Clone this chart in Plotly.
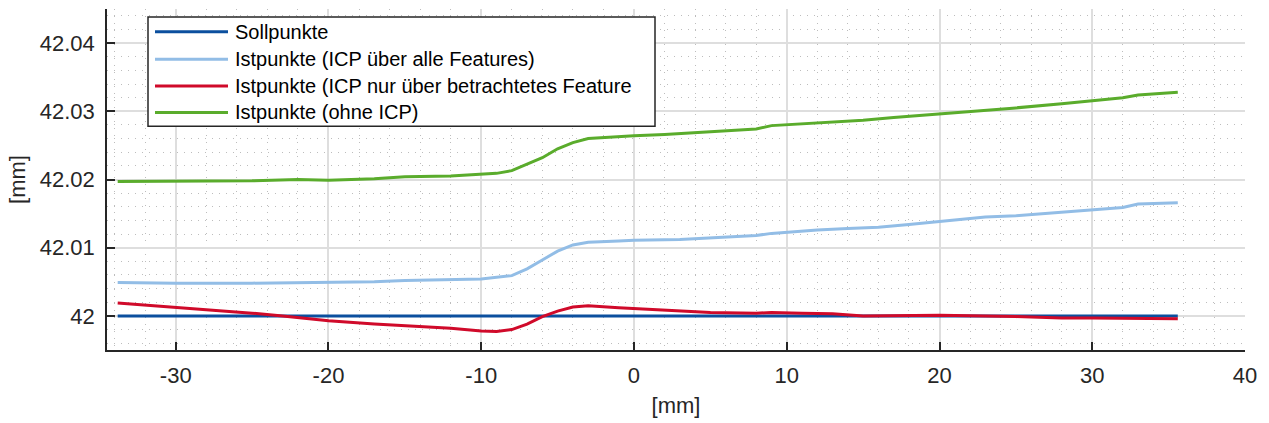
import plotly.graph_objects as go

# Sollpunkte
x_soll = [-33.8, 35.6]
y_soll = [42.0, 42.0]

# Istpunkte (ohne ICP)
x_green = [-33.8, -30, -25, -22, -20, -17, -15, -12, -10, -9, -8, -7, -6, -5, -4, -3, -1, 0, 2, 5, 8, 9, 12, 15, 17, 20, 23, 25, 28, 30, 32, 33, 35.6]
y_green = [42.0197, 42.0197, 42.0198, 42.0200, 42.0199, 42.0201, 42.0204, 42.0205, 42.0207, 42.0209, 42.0213,
           42.0222, 42.0232, 42.0245, 42.0254, 42.0260, 42.0263, 42.0264, 42.0266, 42.0270, 42.0274, 42.0279,
           42.0283, 42.0287, 42.0291, 42.0296, 42.0302, 42.0305, 42.0311, 42.0316, 42.0320, 42.0324, 42.0328]

# Istpunkte (ICP über alle Features)
x_lblue = [-33.8, -30, -25, -20, -17, -15, -12, -10, -8, -7, -6, -5, -4, -3, -1, 0, 3, 5, 8, 9, 12, 14, 16, 18, 20, 23, 25, 28, 30, 32, 33, 35.6]
y_lblue = [42.0049, 42.0048, 42.0048, 42.0049, 42.0050, 42.0052, 42.0053, 42.0054, 42.0059, 42.0069,
           42.0082, 42.0095, 42.0104, 42.0108, 42.0110, 42.0111, 42.0112, 42.0114, 42.0118, 42.0121,
           42.0126, 42.0128, 42.0130, 42.0134, 42.0138, 42.0145, 42.0147, 42.0152, 42.0156, 42.0159,
           42.0164, 42.0166]

# Istpunkte (ICP nur über betrachtetes Feature)
x_red = [-33.8, -32, -30, -27, -25, -23, -20, -17, -15, -12, -10, -9, -8, -7, -6, -5, -4, -3, -1, 0, 2, 5, 8, 9, 11, 13, 15, 18, 20, 25, 28, 30, 33, 35.6]
y_red = [42.0019, 42.0016, 42.0013, 42.0008, 42.0004, 42.0000, 41.9993, 41.9988, 41.9986, 41.9982,
         41.9978, 41.9977, 41.9980, 41.9988, 41.9999, 42.0007, 42.0013, 42.0015, 42.0012, 42.0011,
         42.0009, 42.0005, 42.0004, 42.0005, 42.0004, 42.0003, 42.0000, 42.0001, 42.0001, 41.9999,
         41.9997, 41.9997, 41.9997, 41.9996]

x_ticks = [-30, -20, -10, 0, 10, 20, 30, 40]
x_ticktext = ["-30", "-20", "-10", "0", "10", "20", "30", "40"]
y_ticks = [42.0, 42.01, 42.02, 42.03, 42.04]
y_ticktext = ["42", "42.01", "42.02", "42.03", "42.04"]

series = [
    ("Sollpunkte", x_soll, y_soll, "#0b4f9e"),
    ("Istpunkte (ICP über alle Features)", x_lblue, y_lblue, "#92bde6"),
    ("Istpunkte (ICP nur über betrachtetes Feature", x_red, y_red, "#d00a2a"),
    ("Istpunkte (ohne ICP)", x_green, y_green, "#5aac2c"),
]

W, H = 1269, 423
ML, MR, MT, MB = 107, 24, 9, 71
PW, PH = W - ML - MR, H - MT - MB
FONT = "Liberation Sans, Arial"
TXT = "#262626"

def px_x(p):
    return (p - ML) / PW

def px_y(p):
    return (H - MB - p) / PH

fig = go.Figure()
for name, xs, ys, col in series:
    fig.add_trace(go.Scatter(x=xs, y=ys, mode="lines", name=name,
                             line=dict(color=col, width=3), showlegend=False))

# custom legend (MATLAB-style: long line samples, boxed)
shapes = [dict(type="rect", xref="paper", yref="paper",
               x0=px_x(148), x1=px_x(655), y0=px_y(127), y1=px_y(17),
               fillcolor="white", line=dict(color=TXT, width=1.5), layer="above")]
annotations = []
row_y = [32, 59.5, 86.5, 113]
for (name, xs, ys, col), ry in zip(series, row_y):
    shapes.append(dict(type="line", xref="paper", yref="paper",
                       x0=px_x(155), x1=px_x(228), y0=px_y(ry), y1=px_y(ry),
                       line=dict(color=col, width=3), layer="above"))
    annotations.append(dict(text=name, xref="paper", yref="paper",
                            x=px_x(233), y=px_y(ry), xanchor="left", yanchor="middle",
                            showarrow=False, font=dict(family=FONT, size=20, color="#000000")))

axis_common = dict(
    showline=True, linecolor=TXT, linewidth=1.5, mirror=False,
    ticks="inside", ticklen=8, tickcolor=TXT, tickwidth=1.5,
    showgrid=True, gridcolor="#dedede", gridwidth=1.5, zeroline=False,
    tickfont=dict(family=FONT, size=22, color=TXT),
)

fig.update_layout(
    width=W, height=H,
    margin=dict(l=ML, r=MR, t=MT, b=MB),
    paper_bgcolor="white", plot_bgcolor="white",
    font=dict(family=FONT, color=TXT),
    xaxis=dict(range=[-34.5, 40], tickvals=x_ticks, ticktext=x_ticktext, ticklabelstandoff=5,
               title=dict(text="[mm]", font=dict(size=22, color=TXT), standoff=10),
               minor=dict(dtick=2, showgrid=True, gridcolor="#bdbdbd", griddash="1px,6px", gridwidth=1.3, ticks=""),
               **axis_common),
    yaxis=dict(range=[41.995, 42.045], tickvals=y_ticks, ticktext=y_ticktext, ticklabelstandoff=6,
               title=dict(text="[mm]", font=dict(size=22, color=TXT), standoff=8),
               minor=dict(dtick=0.002, showgrid=True, gridcolor="#bdbdbd", griddash="1px,6px", gridwidth=1.3, ticks=""),
               **axis_common),
    shapes=shapes,
    annotations=annotations,
    showlegend=False,
)

fig.write_html("out.html")
